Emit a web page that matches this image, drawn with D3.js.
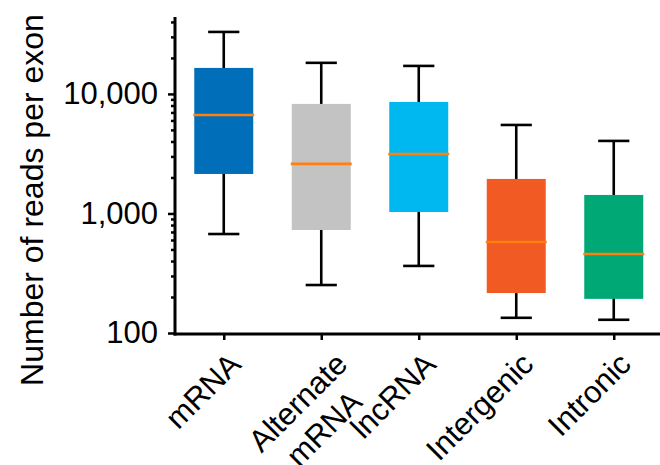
<!DOCTYPE html>
<html lang="en">
<head>
	<meta charset="UTF-8">
	<title>Reads per exon</title>
	<style>
		body { margin: 0; background: #fff; }
		text { font-family: "Liberation Sans", Arial, sans-serif; fill: #000; }
	</style>
</head>
<body>
	<script src="https://d3js.org/d3.v7.min.js"></script>
	<script type="text/javascript">
		// categories (multi-line labels split on \n)
		var categories = ["mRNA", "Alternate\nmRNA", "lncRNA", "Intergenic", "Intronic"];
		// box statistics
		var whiskerLow  = [673, 252, 364, 134, 129];
		var q1          = [2140, 727, 1029, 216, 193];
		var medians     = [6670, 2600, 3145, 577, 458];
		var q3          = [16500, 8250, 8570, 1945, 1428];
		var whiskerHigh = [33000, 18200, 17150, 5500, 4045];
		var boxColors   = ["#006EB8", "#C3C3C3", "#00B8F0", "#F15A22", "#00A875"];
		// y axis ticks
		var majorTicks = [100, 1000, 10000];
		var tickLabels = ["100", "1,000", "10,000"];
		var minorTicks = [200, 300, 400, 500, 600, 700, 800, 900,
			2000, 3000, 4000, 5000, 6000, 7000, 8000, 9000, 20000, 30000, 40000];

		var width = 660, height = 465;
		var svg = d3.select("body").append("svg").attr("width", width).attr("height", height);

		var y = d3.scaleLog().domain([100, 44000]).range([333, 17]);
		var x = d3.scalePoint().domain(categories).range([175, 662.5]).padding(0.5);
		var boxW = x.step() * 0.605;
		var capW = x.step() * 0.32;

		// boxes
		var g = svg.append("g");
		categories.forEach(function(c, i){
			var cx = x(c);
			g.append("line")
				.attr("x1", cx).attr("x2", cx)
				.attr("y1", y(whiskerLow[i])).attr("y2", y(whiskerHigh[i]))
				.attr("stroke", "#000").attr("stroke-width", 2.6);
			[whiskerLow[i], whiskerHigh[i]].forEach(function(v){
				g.append("line")
					.attr("x1", cx - capW / 2).attr("x2", cx + capW / 2)
					.attr("y1", y(v)).attr("y2", y(v))
					.attr("stroke", "#000").attr("stroke-width", 2.6);
			});
			g.append("rect")
				.attr("x", cx - boxW / 2).attr("width", boxW)
				.attr("y", y(q3[i])).attr("height", y(q1[i]) - y(q3[i]))
				.attr("fill", boxColors[i]);
			g.append("line")
				.attr("x1", cx - boxW / 2 - 1).attr("x2", cx + boxW / 2 + 1)
				.attr("y1", y(medians[i])).attr("y2", y(medians[i]))
				.attr("stroke", "#FF800E").attr("stroke-width", 2.6);
		});

		// y axis
		var yAxis = svg.append("g").attr("transform", "translate(175,0)");
		yAxis.call(d3.axisLeft(y).tickValues(minorTicks).tickSize(4).tickFormat(""));
		yAxis.append("g").call(d3.axisLeft(y).tickValues(majorTicks).tickSize(7).tickPadding(10)
			.tickFormat(function(d, i){ return tickLabels[i]; }));
		yAxis.selectAll(".domain").remove();
		yAxis.selectAll("line").attr("stroke", "#000").attr("stroke-width", 2.5);
		yAxis.selectAll("text").attr("font-size", 31).attr("font-family", "Liberation Sans, Arial, sans-serif");
		svg.append("line").attr("x1", 175).attr("x2", 175).attr("y1", y(44000)).attr("y2", 335.5)
			.attr("stroke", "#000").attr("stroke-width", 3);

		// x axis
		var xAxis = svg.append("g").attr("transform", "translate(0,334)");
		xAxis.call(d3.axisBottom(x).tickSize(6).tickFormat(""));
		xAxis.selectAll(".domain").remove();
		xAxis.selectAll("line").attr("stroke", "#000").attr("stroke-width", 2.5);
		svg.append("line").attr("x1", 173.5).attr("x2", width).attr("y1", 334).attr("y2", 334)
			.attr("stroke", "#000").attr("stroke-width", 3);

		// rotated category labels
		var lineH = 37;
		categories.forEach(function(c){
			var lines = c.split("\n");
			var extra = lines.length > 1 ? 9 : 0;
			var lab = svg.append("g")
				.attr("transform", "translate(" + (x(c) + 19 + extra) + "," + 366 + ") rotate(-45)");
			var texts = lines.map(function(s, k){
				return lab.append("text").attr("font-size", 31).attr("y", k * lineH).text(s);
			});
			var maxW = d3.max(texts, function(t){ return t.node().getComputedTextLength(); });
			texts.forEach(function(t){
				t.attr("text-anchor", "middle").attr("x", -maxW / 2);
			});
		});

		// y axis title
		svg.append("text")
			.attr("transform", "translate(43,200) rotate(-90)")
			.attr("text-anchor", "middle")
			.attr("font-size", 32)
			.text("Number of reads per exon");
	</script>
</body>
</html>
